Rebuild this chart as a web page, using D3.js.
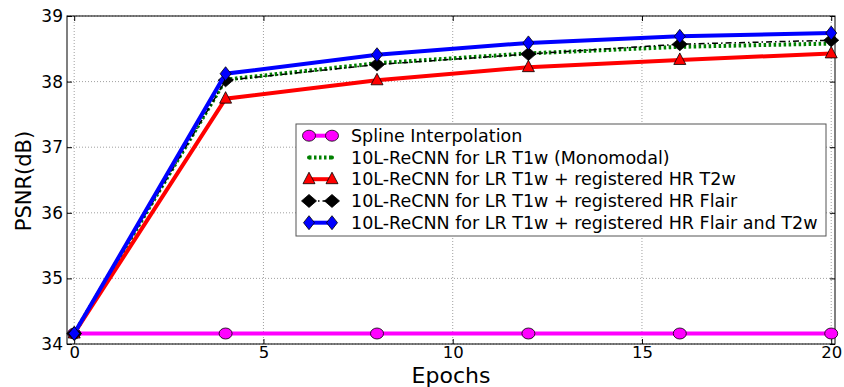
<!DOCTYPE html>
<html>
<head>
<meta charset="utf-8">
<script src="https://cdn.jsdelivr.net/npm/d3@7"></script>
<style>
  body { margin: 0; background: #fff; }
  text { font-family: "DejaVu Sans", sans-serif; }
</style>
</head>
<body>
<div id="chart"></div>
<script>
// data
const epochs = [0, 4, 8, 12, 16, 20];
const spline = [34.16, 34.16, 34.16, 34.16, 34.16, 34.16];
const monoT1 = [34.16, 38.03, 38.28, 38.43, 38.53, 38.58];
const withT2 = [34.16, 37.74, 38.02, 38.22, 38.33, 38.43];
const withFlair = [34.16, 38.02, 38.26, 38.42, 38.57, 38.63];
const withBoth = [34.16, 38.12, 38.41, 38.59, 38.69, 38.74];
const xTicks = [0, 5, 10, 15, 20];
const yTicks = [34, 35, 36, 37, 38, 39];
const names = [
    "Spline Interpolation",
    "10L-ReCNN for LR T1w (Monomodal)",
    "10L-ReCNN for LR T1w + registered HR T2w",
    "10L-ReCNN for LR T1w + registered HR Flair",
    "10L-ReCNN for LR T1w + registered HR Flair and T2w"
];

const W = 844, H = 387;
const pLeft = 67, pRight = 835, pTop = 16, pBottom = 344;

const svg = d3.select("#chart").append("svg")
    .attr("width", W)
    .attr("height", H);

const x = d3.scaleLinear().domain([-0.19, 20.1]).range([pLeft, pRight]);
const y = d3.scaleLinear().domain([34, 39]).range([pBottom, pTop]);

// grid
const grid = svg.append("g");
grid.selectAll(".gx").data(xTicks).enter().append("line")
    .attr("x1", d => x(d)).attr("x2", d => x(d))
    .attr("y1", pTop).attr("y2", pBottom)
    .attr("stroke", "#888").attr("stroke-width", 0.8)
    .attr("stroke-dasharray", "1,2");
grid.selectAll(".gy").data(yTicks).enter().append("line")
    .attr("x1", pLeft).attr("x2", pRight)
    .attr("y1", d => y(d)).attr("y2", d => y(d))
    .attr("stroke", "#888").attr("stroke-width", 0.8)
    .attr("stroke-dasharray", "1,2");

// axes, ticks inside
const fmt = d3.format("d");
const axB = svg.append("g").attr("transform", `translate(0,${pBottom})`)
    .call(d3.axisBottom(x).tickValues(xTicks).tickFormat(fmt).tickSizeInner(-5).tickSizeOuter(0).tickPadding(2));
const axT = svg.append("g").attr("transform", `translate(0,${pTop})`)
    .call(d3.axisTop(x).tickValues(xTicks).tickSizeInner(-5).tickSizeOuter(0).tickFormat(""));
const axL = svg.append("g").attr("transform", `translate(${pLeft},0)`)
    .call(d3.axisLeft(y).tickValues(yTicks).tickFormat(fmt).tickSizeInner(-5).tickSizeOuter(0).tickPadding(4));
const axR = svg.append("g").attr("transform", `translate(${pRight},0)`)
    .call(d3.axisRight(y).tickValues(yTicks).tickSizeInner(-5).tickSizeOuter(0).tickFormat(""));
[axB, axT, axL, axR].forEach(a => {
    a.select(".domain").remove();
    a.selectAll("line").attr("stroke", "#000");
});
axB.selectAll("text").attr("font-size", 16.5).attr("fill", "#000").attr("dy", "0.71em");
axL.selectAll("text").attr("font-size", 17).attr("fill", "#000");

svg.append("rect")
    .attr("x", pLeft).attr("y", pTop)
    .attr("width", pRight - pLeft).attr("height", pBottom - pTop)
    .attr("fill", "none").attr("stroke", "#000").attr("stroke-width", 1);

// series
const series = [
    {vals: spline, color: "#ff00ff", width: 4, dash: null, marker: "circle", mfill: "#ff00ff"},
    {vals: monoT1, color: "#008000", width: 4, dash: "2.5,2.5", marker: null, mfill: "#008000"},
    {vals: withT2, color: "#ff0000", width: 4, dash: null, marker: "triangle", mfill: "#ff0000"},
    {vals: withFlair, color: "#000", width: 1.5, dash: "6,3,1.5,3", marker: "bigdiamond", mfill: "#000"},
    {vals: withBoth, color: "#0000ff", width: 4, dash: null, marker: "thindiamond", mfill: "#0000ff"}
];

const line = d3.line().x(d => x(d[0])).y(d => y(d[1]));

function markerPath(kind) {
    if (kind === "triangle") return "M0,-7L6,4.5L-6,4.5Z";
    if (kind === "bigdiamond") return "M0,-6.5L7.5,0L0,6.5L-7.5,0Z";
    if (kind === "thindiamond") return "M0,-7L5.5,0L0,7L-5.5,0Z";
    return null;
}

function drawMarker(g, kind, cx, cy, fill) {
    if (!kind) return;
    if (kind === "circle") {
        g.append("ellipse").attr("cx", cx).attr("cy", cy)
            .attr("rx", 6.5).attr("ry", 5.5)
            .attr("fill", fill).attr("stroke", "#000").attr("stroke-width", 0.8);
    } else {
        g.append("path").attr("d", markerPath(kind))
            .attr("transform", `translate(${cx},${cy})`)
            .attr("fill", fill).attr("stroke", "#000").attr("stroke-width", 0.8);
    }
}

const plot = svg.append("g");
series.forEach(s => {
    const pts = epochs.map((e, i) => [e, s.vals[i]]);
    plot.append("path")
        .attr("d", line(pts))
        .attr("fill", "none")
        .attr("stroke", s.color)
        .attr("stroke-width", s.width)
        .attr("stroke-dasharray", s.dash);
    pts.forEach(p => drawMarker(plot, s.marker, x(p[0]), y(p[1]), s.mfill));
});

// labels
svg.append("text")
    .attr("x", 451).attr("y", 383)
    .attr("text-anchor", "middle").attr("font-size", 22)
    .text("Epochs");
svg.append("text")
    .attr("transform", "translate(31,181) rotate(-90)")
    .attr("text-anchor", "middle").attr("font-size", 21)
    .text("PSNR(dB)");

// legend
const lg = svg.append("g");
lg.append("rect")
    .attr("x", 296).attr("y", 124)
    .attr("width", 530).attr("height", 112)
    .attr("fill", "#fff").attr("stroke", "#555").attr("stroke-width", 1);
series.forEach((s, i) => {
    const ly = 135.7 + i * 21.75;
    lg.append("line")
        .attr("x1", 309).attr("x2", 332)
        .attr("y1", ly).attr("y2", ly)
        .attr("stroke", s.color).attr("stroke-width", s.width)
        .attr("stroke-dasharray", s.dash);
    if (s.marker) {
        drawMarker(lg, s.marker, 309, ly, s.mfill);
        drawMarker(lg, s.marker, 332, ly, s.mfill);
    } else {
        lg.append("circle").attr("cx", 309).attr("cy", ly).attr("r", 2).attr("fill", s.color);
        lg.append("circle").attr("cx", 332).attr("cy", ly).attr("r", 2).attr("fill", s.color);
    }
    lg.append("text")
        .attr("x", 351).attr("y", ly)
        .attr("dy", "0.35em")
        .attr("font-size", 17.5)
        .text(names[i]);
});
</script>
</body>
</html>
